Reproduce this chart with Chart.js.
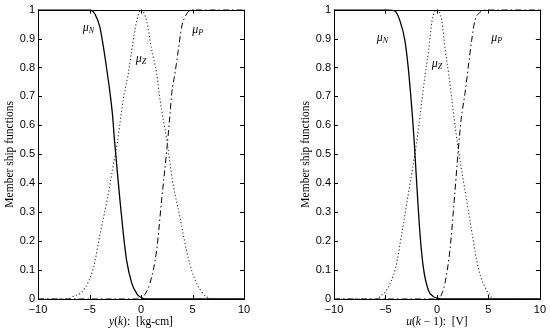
<!DOCTYPE html>
<html>
<head>
<meta charset="utf-8">
<script src="https://cdn.jsdelivr.net/npm/chart.js@4.4.0/dist/chart.umd.min.js"></script>
<style>
html, body { margin: 0; padding: 0; background: #fff; }
#wrap { position: relative; width: 550px; height: 332px; }
canvas { position: absolute; top: 0; }
</style>
</head>
<body>
<div id="wrap">
  <canvas id="leftChart" width="275" height="332" style="left:0"></canvas>
  <canvas id="rightChart" width="275" height="332" style="left:275px"></canvas>
</div>
<script>
// Valeurs
const xTicks = [-10, -5, 0, 5, 10];
const yTicks = [0, 0.1, 0.2, 0.3, 0.4, 0.5, 0.6, 0.7, 0.8, 0.9, 1];

// panneau gauche : y(k)
const leftNX = [-10, -5.2, -4.8, -4.47, -4, -3.6, -3.27, -3.0, -2.75, -2.6, -2.45, -2.3, -2.04, -1.72, -1.4, -0.9, -0.4, 0, 0.5, 10];
const leftNY = [1, 1, 0.997, 0.985, 0.94, 0.86, 0.78, 0.71, 0.63, 0.56, 0.5, 0.44, 0.34, 0.227, 0.134, 0.055, 0.018, 0.005, 0, 0];
const leftZX = [-10, -7.2, -6.5, -5.6, -4.6, -4, -3.3, -2.7, -2.3, -1.72, -1.23, -0.9, -0.42, 0, 0.55, 1.04, 1.52, 1.84, 2.5, 3.1, 3.8, 4.4, 5.1, 6, 7.2, 10];
const leftZY = [0, 0, 0.01, 0.03, 0.11, 0.22, 0.34, 0.46, 0.54, 0.69, 0.78, 0.86, 0.96, 1, 0.96, 0.86, 0.78, 0.69, 0.55, 0.40, 0.28, 0.17, 0.08, 0.02, 0, 0];
const leftPX = [-10, 0, 0.23, 0.87, 1.52, 2.0, 2.5, 2.82, 2.98, 3.3, 3.62, 3.95, 4.43, 5.08, 10];
const leftPY = [0, 0, 0.008, 0.055, 0.169, 0.341, 0.514, 0.64, 0.71, 0.78, 0.86, 0.94, 0.985, 1, 1];

// panneau droit : u(k-1)
const rightNX = [-10, -4.9, -4.1, -3.6, -3.11, -2.79, -2.56, -2.4, -2.2, -2.0, -1.65, -1.33, -0.84, -0.4, 0, 0.4, 10];
const rightNY = [1, 1, 0.995, 0.962, 0.893, 0.80, 0.71, 0.64, 0.54, 0.42, 0.227, 0.111, 0.031, 0.01, 0.003, 0, 0];
const rightZX = [-10, -5.8, -5.5, -4.9, -4.0, -3.4, -2.75, -2.0, -1.46, -1.13, -0.81, -0.48, 0, 0.48, 0.81, 1.13, 1.46, 2.0, 2.75, 3.4, 4.0, 4.9, 5.7, 10];
const rightZY = [0, 0, 0.01, 0.03, 0.11, 0.23, 0.37, 0.535, 0.686, 0.78, 0.86, 0.96, 1, 0.96, 0.86, 0.78, 0.686, 0.535, 0.37, 0.23, 0.11, 0.025, 0, 0];
const rightPX = [-10, 0, 0.29, 0.78, 1.26, 1.68, 2.07, 2.35, 2.72, 3.04, 3.37, 3.69, 4.17, 4.82, 10];
const rightPY = [0, 0, 0.005, 0.055, 0.169, 0.341, 0.514, 0.62, 0.71, 0.80, 0.893, 0.962, 0.99, 1, 1];

// étiquettes mu
const muNames = ['N', 'Z', 'P'];
const leftMuX = [-5.1, 0, 5.5];
const leftMuY = [0.94, 0.834, 0.934];
const rightMuX = [-5.3, 0, 5.8];
const rightMuY = [0.907, 0.817, 0.907];

const yTitle = 'Member ship functions';
const leftXTitle = [['y', true], ['(', false], ['k', true], ['):  [kg-cm]', false]];
const rightXTitle = [['u', true], ['(', false], ['k', true], [' \u2212 1):  [V]', false]];

const SERIF = '"Liberation Serif", "DejaVu Serif", serif';
const SANS = '"Liberation Sans", Arial, sans-serif';

function zip(xs, ys) {
    return xs.map((x, i) => ({ x: x, y: ys[i] }));
}

// cadre, graduations intérieures et textes
const framePlugin = {
    id: 'frame',
    afterDraw(chart, args, opts) {
        const { ctx, chartArea: a, scales: { x, y } } = chart;
        ctx.save();
        ctx.strokeStyle = '#000';
        ctx.lineWidth = 1;
        ctx.strokeRect(Math.round(a.left) + 0.5, Math.round(a.top) + 0.5,
            Math.round(a.right - a.left), Math.round(a.bottom - a.top));
        ctx.beginPath();
        xTicks.forEach(v => {
            const px = Math.round(x.getPixelForValue(v)) + 0.5;
            ctx.moveTo(px, a.bottom); ctx.lineTo(px, a.bottom - 4);
            ctx.moveTo(px, a.top); ctx.lineTo(px, a.top + 4);
        });
        yTicks.forEach(v => {
            const py = Math.round(y.getPixelForValue(v)) + 0.5;
            ctx.moveTo(a.left, py); ctx.lineTo(a.left + 4, py);
            ctx.moveTo(a.right, py); ctx.lineTo(a.right - 4, py);
        });
        ctx.stroke();

        // mu_N, mu_Z, mu_P
        ctx.fillStyle = '#000';
        ctx.textBaseline = 'alphabetic';
        opts.muX.forEach((mx, i) => {
            const px = x.getPixelForValue(mx);
            const py = y.getPixelForValue(opts.muY[i]) + 4;
            ctx.font = 'italic 12px ' + SERIF;
            const w1 = ctx.measureText('\u03bc').width;
            ctx.font = 'italic 8px ' + SERIF;
            const w2 = ctx.measureText(muNames[i]).width;
            const x0 = px - (w1 + w2) / 2;
            ctx.font = 'italic 12px ' + SERIF;
            ctx.fillText('\u03bc', x0, py);
            ctx.font = 'italic 8px ' + SERIF;
            ctx.fillText(muNames[i], x0 + w1, py + 2);
        });

        // titre de l'axe x
        ctx.textBaseline = 'middle';
        let total = 0;
        opts.xTitle.forEach(p => {
            ctx.font = (p[1] ? 'italic ' : '') + '11.5px ' + SERIF;
            total += ctx.measureText(p[0]).width;
        });
        let cx = (a.left + a.right) / 2 - total / 2;
        opts.xTitle.forEach(p => {
            ctx.font = (p[1] ? 'italic ' : '') + '11.5px ' + SERIF;
            ctx.fillText(p[0], cx, 322);
            cx += ctx.measureText(p[0]).width;
        });

        // titre de l'axe y
        ctx.translate(opts.yTitleX, (a.top + a.bottom) / 2);
        ctx.rotate(-Math.PI / 2);
        ctx.textAlign = 'center';
        ctx.font = '11.5px ' + SERIF;
        ctx.fillText(yTitle, 0, 0);
        ctx.restore();
    }
};

function makeChart(id, curves, muX, muY, xTitle, padLeft, padRight, yTitleX) {
    const datasets = [
        { data: zip(curves[0], curves[1]), borderColor: '#000', borderWidth: 1.3 },
        { data: zip(curves[2], curves[3]), borderColor: '#333', borderWidth: 1.1, borderDash: [1.2, 2.3] },
        { data: zip(curves[4], curves[5]), borderColor: '#000', borderWidth: 1, borderDash: [6, 3, 1.5, 3] }
    ].map(d => Object.assign(d, { pointRadius: 0, fill: false, cubicInterpolationMode: 'monotone' }));

    const ctx = document.getElementById(id).getContext('2d');
    return new Chart(ctx, {
        type: 'line',
        data: { datasets },
        plugins: [framePlugin],
        options: {
            responsive: false,
            animation: false,
            layout: { padding: { left: padLeft, right: padRight, top: 9, bottom: 0 } },
            plugins: {
                legend: { display: false },
                tooltip: { enabled: false },
                frame: { muX, muY, xTitle, yTitleX }
            },
            scales: {
                x: {
                    type: 'linear', min: -10, max: 10,
                    afterBuildTicks: s => { s.ticks = xTicks.map(v => ({ value: v })); },
                    afterFit: s => { s.height = 33; },
                    grid: { display: false, drawTicks: false },
                    border: { display: false },
                    ticks: {
                        padding: 4, color: '#000', maxRotation: 0,
                        font: { family: SANS, size: 11 },
                        callback: v => String(v).replace('-', '\u2212')
                    }
                },
                y: {
                    type: 'linear', min: 0, max: 1,
                    afterBuildTicks: s => { s.ticks = yTicks.map(v => ({ value: v })); },
                    afterFit: s => { s.width = 38; },
                    grid: { display: false, drawTicks: false },
                    border: { display: false },
                    ticks: {
                        padding: 3, color: '#000',
                        font: { family: SANS, size: 11 },
                        callback: v => (v === 0 || v === 1) ? String(v) : v.toFixed(1)
                    }
                }
            }
        }
    });
}

makeChart('leftChart', [leftNX, leftNY, leftZX, leftZY, leftPX, leftPY],
    leftMuX, leftMuY, leftXTitle, 0, 31, 10);
makeChart('rightChart', [rightNX, rightNY, rightZX, rightZY, rightPX, rightPY],
    rightMuX, rightMuY, rightXTitle, 21, 10, 31);
</script>
</body>
</html>
